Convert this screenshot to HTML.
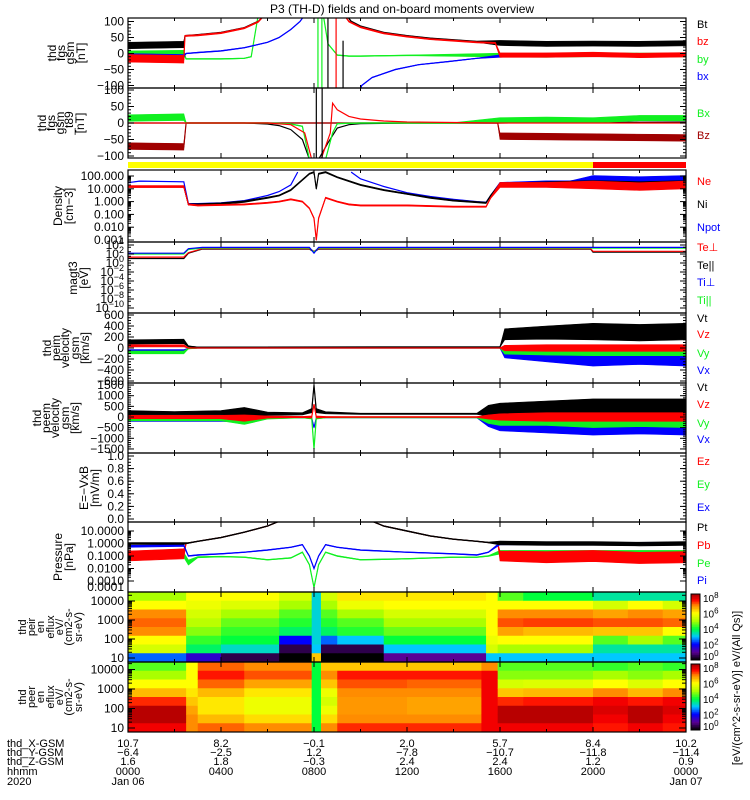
<!DOCTYPE html>
<html><head><meta charset="utf-8"><style>
html,body{margin:0;padding:0;background:#fff;}
svg{display:block;font-family:"Liberation Sans",sans-serif;}
</style></head><body>
<svg id="chart" width="750" height="800" viewBox="0 0 750 800">
<rect x="0" y="0" width="750" height="800" fill="#fff"/>
<text x="402" y="13" font-size="12" text-anchor="middle">P3 (TH-D) fields and on-board moments overview</text>
<g id="root"></g>
</svg>
<script>
// ---------- data arrays ----------
const tickHours = [0,4,8,12,16,20,24];
const xGsm = ["10.7","8.2","-0.1","2.0","5.7","8.4","10.2"];
const yGsm = ["-6.4","-2.5","1.2","-7.8","-10.7","-11.8","-11.4"];
const zGsm = ["1.6","1.8","-0.3","2.4","2.4","1.2","0.9"];
const hhmm = ["0000","0400","0800","1200","1600","2000","0000"];

// panel 1 fgs gsm
const p1BtT=[0,2.4,2.45,3,4,5,5.6,6,null,9.3,9.6,10,11,12,13,14,15,16,18,20,22,24];
const p1BtV=[25,28,55,58,65,80,100,130,null,130,100,85,65,55,47,42,37,33,30,31,30,32];
const p1BtS=[10,10,2,2,2,2,2,2,null,2,2,2,2,2,2,2,2,8,8,8,8,8];
const p1BzT=[0,2.4,2.45,3,4,5,5.6,6,null,9.2,9.5,10,11,12,13,14,15,15.8,16,18,20,22,24];
const p1BzV=[-15,-18,55,57,64,79,99,130,null,130,100,82,63,53,45,40,35,33,-5,-5,-3,-6,-4];
const p1BzS=[12,12,2,2,2,2,2,2,null,2,2,2,2,2,2,2,2,2,7,7,7,7,7];
const p1ByT=[0,2.4,2.5,3,4,4.5,5,5.3,5.6,null,8.4,8.6,9,9.5,10,12,16,18,20,24];
const p1ByV=[0,2,-17,-17,-17,-16,-15,-10,120,null,120,30,-5,-8,-8,-6,-5,-6,-4,-5];
const p1ByS=[8,8,1,1,1,1,1,1,1,null,1,1,1,1,1,1,6,6,6,6];
const p1BxT=[0,2.4,2.5,3,4,5,6,6.5,7,7.4,7.7,null,9.9,10.05,10.5,11.5,12.5,13.8,15,16,18,20,24];
const p1BxV=[-5,-8,0,3,8,18,35,50,75,100,130,null,-130,-100,-75,-50,-35,-25,-15,-8,-3,-5,-5];
const p1BxS=[5,5,1,1,1,1,1,1,1,1,1,null,1,1,1,1,1,1,1,4,4,4,4];
const p1SpikeT=[8.17,8.34,8.95,8.6,9.25];
const p1SpikeLo=[-110,-110,-110,-110,-110];
const p1SpikeHi=[110,110,110,110,40];
const p1SpikeC=["g","g","r","k","k"];

// panel 2 fgs gsm t89
const p2BxT=[0,2.4,2.5,4,6,7,7.5,7.8,8.5,8.8,9,10,12,14,16,18,20,22,24];
const p2BxV=[15,18,0,0,0,-3,-10,-110,-110,-30,-2,0,0,0,8,10,8,15,15];
const p2BxS=[10,10,1,1,1,1,1,1,1,1,1,1,1,1,8,8,8,8,8];
const p2BzT=[0,2.4,2.5,15.9,16,24];
const p2BzV=[-70,-72,0,0,-40,-45];
const p2BzS=[10,10,1,1,10,10];
const p2KT=[0,2.5,5,6,6.5,7,7.5,7.8,8.2,8.6,9,9.5,10,12,16,24];
const p2KV=[0,0,0,-3,-8,-20,-50,-110,-110,-60,-15,-5,-2,0,0,3];
const p2RT=[0,2.5,6,7,7.6,7.9,8.3,8.7,8.8,9,9.5,10,11,12,16,24];
const p2RV=[0,0,0,-5,-30,-110,-110,-30,60,40,20,12,6,3,0,0];
const p2SpikeT=[8.1,8.35];
const p2SpikeLo=[-110,-110];
const p2SpikeHi=[110,110];

// mode bar
const modeStart=[0,20];
const modeEnd=[20,24];
const modeColor=["#ffff00","#ff0000"];

// panel 3 density (cm-3)
const p3NeT=[0,2.4,2.6,3,4,5,6,6.5,7,7.5,7.8,8,8.1,8.2,8.5,9,9.5,10,12,14,15.4,15.6,16,18,20,22,24];
const p3NeV=[15,15,0.6,0.5,0.55,0.6,0.8,1,1.5,1,0.3,0.05,0.001,0.05,2,1,0.6,0.5,0.5,0.4,0.4,2,20,20,20,15,20];
const p3NeS=[0.08,0.08,0.05,0.05,0.05,0.05,0.05,0.05,0.05,0.05,0.05,0.05,0.05,0.05,0.05,0.05,0.05,0.05,0.05,0.05,0.05,0.05,0.2,0.2,0.3,0.3,0.3];
const p3NiT=[0,2.4,2.6,3,4,5,6,6.5,7,7.5,7.8,8,8.1,8.2,8.5,9,10,11,12,13,14,15,15.4,15.6,16,18,20,22,24];
const p3NiV=[15,15,0.6,0.6,0.7,1,2,3,8,50,150,200,10,150,200,80,20,8,4,2,1.2,0.9,0.8,3,20,25,25,20,25];
const p3NiS=[0.06,0.06,0.06,0.06,0.06,0.06,0.05,0.05,0.05,0.05,0.05,0.05,0.05,0.05,0.05,0.05,0.05,0.05,0.05,0.05,0.05,0.05,0.05,0.05,0.15,0.15,0.25,0.25,0.25];
const p3NpT=[0,0.5,2.4,2.6,3,4,5,6,6.5,7,7.3,null,9.6,10,11,12,13,14,15,15.4,15.6,16,18,19,20,22,24];
const p3NpV=[30,40,35,0.7,0.7,0.8,1.2,3,6,20,200,null,200,60,15,5,2.5,1.5,1,0.9,3,30,40,40,60,50,60];
const p3NpS=[0,0,0,0,0,0,0,0,0,0,0,null,0,0,0,0,0,0,0,0,0,0,0,0,0.25,0.25,0.25];

// panel 4 magt3 temperatures (eV)
const p4T=[0,2.4,2.6,3.2,6,7.8,8,8.2,10,16,19.9,20,24];
const p4TePerp=[20,20,200,1500,1500,1500,400,1500,1500,1500,1500,400,400];
const p4TePar=[10,10,150,1200,1200,1200,300,1200,1200,1200,1200,250,250];
const p4TiPerp=[150,150,1500,3000,3000,3000,150,3000,3000,3000,3000,3000,3000];
const p4TiPar=[100,100,1000,2200,2200,2200,300,2200,2200,2200,2200,2000,2000];

// panel 5 peim velocity
const p5T=[0,2.4,2.6,3,16,16.2,18,20,22,24];
const p5VtV=[110,120,30,15,20,250,280,300,280,300];
const p5VtS=[40,40,10,5,5,100,120,150,150,150];
const p5VzV=[40,40,0,0,0,0,0,0,0,0];
const p5VzS=[20,20,5,3,3,50,60,60,60,60];
const p5VyV=[-80,-80,-10,0,0,-70,-80,-80,-80,-80];
const p5VyS=[25,25,5,3,3,40,50,60,60,60];
const p5VxV=[-50,-50,-5,0,0,-120,-150,-180,-150,-180];
const p5VxS=[20,20,5,3,3,60,100,150,150,150];

// panel 6 peem velocity
const p6T=[0,2,4,5,6,7.5,7.9,8,8.1,8.5,10,14,15,15.5,16,18,20,22,24];
const p6VtV=[200,180,200,250,150,150,300,1500,300,200,150,150,150,300,350,400,450,450,450];
const p6VtS=[100,80,100,200,80,50,100,0,100,50,30,30,30,250,300,350,400,400,400];
const p6VzV=[0,0,0,-50,0,0,0,600,0,0,0,0,0,0,0,0,0,0,0];
const p6VzS=[80,80,80,150,50,30,50,0,50,30,20,20,20,100,150,200,200,200,200];
const p6VyV=[-100,-100,-100,-200,-50,-20,-50,-1500,-50,-20,-20,-20,-20,-150,-200,-200,-250,-200,-250];
const p6VyS=[80,80,80,150,50,20,50,0,50,20,20,20,20,150,200,200,250,250,250];
const p6VxV=[-150,-150,-150,-150,-50,-20,-50,-500,-50,-20,-20,-20,-20,-250,-350,-400,-450,-400,-450];
const p6VxS=[60,60,60,80,30,20,30,0,30,20,20,20,20,200,300,350,400,400,400];

// panel 8 pressure (nPa)
const p8PtT=[0,2.4,2.6,3,4,5,6,6.5,null,10.5,11,12,13,14,15,15.5,16,18,20,22,24];
const p8PtV=[1,1,1.1,1.5,3,8,25,60,null,60,25,10,4,2.2,1.5,1.2,1.1,1,1,0.9,1];
const p8PtS=[0.08,0.08,0.03,0.03,0.03,0.03,0.03,0.03,null,0.03,0.03,0.03,0.03,0.03,0.03,0.03,0.15,0.15,0.15,0.15,0.15];
const p8PbT=[0,2.4,2.5,2.6,3,4,5,6,6.5,null,10.5,11,12,13,14,15,15.5,15.9,16,18,20,22,24];
const p8PbV=[0.1,0.15,1,1.1,1.5,3,8,25,60,null,60,25,10,4,2.2,1.5,1.2,1.1,0.1,0.08,0.1,0.07,0.08];
const p8PbS=[0.4,0.4,0.02,0.02,0.02,0.02,0.02,0.02,0.02,null,0.02,0.02,0.02,0.02,0.02,0.02,0.02,0.02,0.4,0.45,0.45,0.45,0.45];
const p8PT=[0,2.4,2.6,3,4,5,6,7,7.5,7.8,8,8.2,8.5,9,10,12,14,15,15.5,16,24];
const p8PeV=[0.1,0.12,0.03,0.08,0.09,0.08,0.05,0.07,0.2,0.02,0.0003,0.02,0.2,0.1,0.05,0.06,0.08,0.08,0.1,0.2,0.2];
const p8PeS=[0.2,0.2,0.2,0.05,0.03,0.03,0.03,0.03,0.03,0.03,0.03,0.03,0.03,0.03,0.03,0.03,0.03,0.03,0.03,0.15,0.15];
const p8PiV=[0.6,0.7,0.1,0.12,0.15,0.2,0.3,0.5,0.8,0.1,0.01,0.1,0.8,0.5,0.3,0.2,0.15,0.12,0.2,1,1];
const p8PiS=[0.08,0.08,0.03,0.03,0.03,0.03,0.03,0.03,0.03,0.03,0.03,0.03,0.03,0.03,0.03,0.03,0.03,0.03,0.03,0.1,0.1];

// spectrograms: segment start/end hours and column profiles (log10 eflux, rows top(high E) -> bottom)
const ionSegStart=[0,2.5,4,6.5,7.9,8.3,9,11,15.4,15.9,17,20,21.5,23];
const ionSegEnd=[2.5,4,6.5,7.9,8.3,9,11,15.4,15.9,17,20,21.5,23,24];
const ionCols=[
 [5,6,7,7.2,7,6,5.5,2.5],
 [6,5.8,5.5,5.2,4.8,4.3,3.8,1.5],
 [6,5.6,5,4.6,4.3,4,3.3,0.5],
 [5.5,5,4.5,4.2,3.8,2,0.5,0],
 [3.2,3.2,3.2,3.2,3.2,3.2,3,6.5],
 [5.5,5,4.5,4.2,3.8,2.5,0.5,0],
 [6.2,5.8,5,4.5,4.2,3,0.5,0],
 [6.2,6,5.5,5,4.6,4,3,1],
 [6,6,6,6,6,5.8,5.5,3],
 [4.5,6,7,7.3,6.8,6,5,3],
 [4,6,7,7.4,6.6,6,5,3],
 [3.5,5.5,6.8,7.3,6.5,4.5,3.5,3],
 [3.5,6,7,7.3,6.5,5,3.5,3],
 [3.5,5.5,6.8,7.2,6,4.5,3.5,3]];
const eleSegStart=[0,2.5,3,5,7.9,8.3,9,12,15.2,15.9,17,20,21.5,23];
const eleSegEnd=[2.5,3,5,7.9,8.3,9,12,15.2,15.9,17,20,21.5,23,24];
const eleCols=[
 [4.5,5,6,6.6,7.5,8.3,8.3,7.8],
 [6,6,6,6.2,6.5,6.8,7,7],
 [7.2,7.6,7.2,6.6,6.2,6.2,6.6,7.2],
 [7,7.3,6.8,6.2,5.8,5.8,6.3,7],
 [4,4,4,4,4,4,4,4],
 [6.5,7,6.5,5.8,5.5,5.8,6.3,7],
 [6.5,7.6,7.3,7,6.9,6.9,7,7.5],
 [6.5,7.6,7.2,7,6.8,6.8,7,7.5],
 [7,7.8,7.8,7.8,7.8,7.8,7.8,7.8],
 [4.5,4.8,5.5,6.5,7.5,8.3,8.3,7.8],
 [4.5,4.8,5.6,6.6,7.6,8.3,8.3,7.8],
 [4.3,5,6,7,7.8,8,7.8,7.6],
 [4.5,4.8,5.6,6.6,7.6,8.3,8.3,7.8],
 [4.3,5,6,7,7.8,8,7.8,7.6]];
const cbTicks=[0,2,4,6,8];

// ---------- rendering ----------
const NS="http://www.w3.org/2000/svg";
const root=document.getElementById('root');
const X0=128, X1=686;
const GREEN="#10f020", RED="#ff0000", BLUE="#0000ff", BLACK="#000000", DRED="#a00000";
const colorOf={k:BLACK,r:RED,g:GREEN,b:BLUE};
function xt(t){return X0+(X1-X0)*t/24;}
function mk(tag,attrs,parent){const e=document.createElementNS(NS,tag);for(const k in attrs)e.setAttribute(k,attrs[k]);(parent||root).appendChild(e);return e;}

const panels=[
 {id:'fgs',top:18,bot:88,y:v=>53.5-v*0.32},
 {id:'t89',top:88,bot:158,y:v=>123-v*0.33},
 {id:'dens',top:170,bot:242,y:v=>176-(Math.log10(v)-2)*12.8},
 {id:'temp',top:242,bot:313,y:v=>245-(Math.log10(v)-4)*4.5},
 {id:'peim',top:313,bot:383,y:v=>348-v*0.055},
 {id:'peem',top:383,bot:453,y:v=>417-v*0.0213},
 {id:'efield',top:453,bot:522,y:v=>519-v*63},
 {id:'press',top:522,bot:592,y:v=>531-(Math.log10(v)-1)*12.5},
 {id:'ionspec',top:592,bot:662},
 {id:'elespec',top:662,bot:732}
];
const clipG={};
const defs=mk('defs',{});
panels.forEach(p=>{
 const c=mk('clipPath',{id:'clip-'+p.id},defs);
 mk('rect',{x:X0,y:p.top,width:X1-X0,height:p.bot-p.top},c);
 const g=mk('g',{'clip-path':'url(#clip-'+p.id+')'});
 
 
 clipG[p.id]=g;
});

function series(pid,T,V,S,color,isLog,name){
 const p=panels.find(q=>q.id===pid);const g=clipG[pid];
 const segs=[];let cur=[];
 for(let i=0;i<T.length;i++){if(T[i]===null){if(cur.length)segs.push(cur);cur=[];}else cur.push(i);}
 if(cur.length)segs.push(cur);
 segs.forEach(idx=>{
  if(S){
   const up=[],lo=[];
   idx.forEach(i=>{const s=S[i]||0;let a,b;
    if(isLog){a=V[i]*Math.pow(10,s);b=V[i]/Math.pow(10,s);}else{a=V[i]+s;b=V[i]-s;}
    up.push(xt(T[i]).toFixed(1)+','+p.y(a).toFixed(1));lo.unshift(xt(T[i]).toFixed(1)+','+p.y(b).toFixed(1));});
   const band=mk('polygon',{points:up.concat(lo).join(' '),fill:color,stroke:color,'stroke-width':0.6},g);
   
   
  }
  const pts=idx.map(i=>xt(T[i]).toFixed(1)+','+p.y(V[i]).toFixed(1)).join(' ');
  const ln=mk('polyline',{points:pts,fill:'none',stroke:color,'stroke-width':1.2},g);
  
  
 });
}
function spikes(pid,T,L,H,C,name){
 const p=panels.find(q=>q.id===pid);
 T.forEach((t,i)=>{const l=mk('line',{x1:xt(t),x2:xt(t),y1:p.y(L[i]),y2:p.y(H[i]),stroke:C?colorOf[C[i]]:BLACK,'stroke-width':1.2},clipG[pid]);
  
  });
}

series('fgs',p1ByT,p1ByV,p1ByS,GREEN,false,'by');
series('fgs',p1BxT,p1BxV,p1BxS,BLUE,false,'bx');
series('fgs',p1BtT,p1BtV,p1BtS,BLACK,false,'bt');
series('fgs',p1BzT,p1BzV,p1BzS,RED,false,'bz');
spikes('fgs',p1SpikeT,p1SpikeLo,p1SpikeHi,p1SpikeC,'b-spike');
series('t89',p2BzT,p2BzV,p2BzS,DRED,false,'bz-t89');
series('t89',p2KT,p2KV,null,BLACK,false,'b-t89-black');
series('t89',p2BxT,p2BxV,p2BxS,GREEN,false,'bx-t89');
series('t89',p2RT,p2RV,null,RED,false,'b-t89-red');
spikes('t89',p2SpikeT,p2SpikeLo,p2SpikeHi,null,'t89-spike');
modeStart.forEach((s,i)=>{const r=mk('rect',{x:xt(s),y:162,width:xt(modeEnd[i])-xt(s),height:6,fill:modeColor[i]});
 
 });
series('dens',p3NpT,p3NpV,p3NpS,BLUE,true,'npot');
series('dens',p3NiT,p3NiV,p3NiS,BLACK,true,'ni');
series('dens',p3NeT,p3NeV,p3NeS,RED,true,'ne');
series('temp',p4T,p4TePar,null,BLACK,true,'te-par');
series('temp',p4T,p4TePerp,null,RED,true,'te-perp');
series('temp',p4T,p4TiPar,null,GREEN,true,'ti-par');
series('temp',p4T,p4TiPerp,null,BLUE,true,'ti-perp');
series('peim',p5T,p5VxV,p5VxS,BLUE,false,'peim-vx');
series('peim',p5T,p5VyV,p5VyS,GREEN,false,'peim-vy');
series('peim',p5T,p5VtV,p5VtS,BLACK,false,'peim-vt');
series('peim',p5T,p5VzV,p5VzS,RED,false,'peim-vz');
series('peem',p6T,p6VxV,p6VxS,BLUE,false,'peem-vx');
series('peem',p6T,p6VyV,p6VyS,GREEN,false,'peem-vy');
series('peem',p6T,p6VtV,p6VtS,BLACK,false,'peem-vt');
series('peem',p6T,p6VzV,p6VzS,RED,false,'peem-vz');
series('press',p8PT,p8PeV,p8PeS,GREEN,true,'pe');
series('press',p8PbT,p8PbV,p8PbS,RED,true,'pb');
series('press',p8PT,p8PiV,p8PiS,BLUE,true,'pi');
series('press',p8PtT,p8PtV,p8PtS,BLACK,true,'pt');

const cmStops=[[0,[0,0,0]],[1,[90,0,150]],[2,[0,0,255]],[3,[0,200,255]],[4,[0,255,60]],[5,[170,255,0]],[6,[255,255,0]],[7,[255,140,0]],[7.7,[255,0,0]],[8.5,[160,0,0]]];
function cmap(v){if(v<=0)return 'rgb(0,0,0)';for(let i=1;i<cmStops.length;i++){if(v<=cmStops[i][0]){const a=cmStops[i-1],b=cmStops[i];const f=(v-a[0])/(b[0]-a[0]);const c=a[1].map((x,k)=>Math.round(x+(b[1][k]-x)*f));return 'rgb('+c+')';}}return 'rgb(160,0,0)';}
function spec(pid,SS,SE,C,name){
 const p=panels.find(q=>q.id===pid);const nr=C[0].length;const h=(p.bot-p.top)/nr;
 SS.forEach((s,j)=>{for(let r=0;r<nr;r++){const c=mk('rect',{x:xt(s),y:p.top+r*h,width:xt(SE[j])-xt(s)+0.5,height:h+0.5,fill:cmap(C[j][r])},clipG[pid]);
  
  }});
}
spec('ionspec',ionSegStart,ionSegEnd,ionCols,'ion-spectrogram');
spec('elespec',eleSegStart,eleSegEnd,eleCols,'electron-spectrogram');

panels.forEach(p=>{
 const f=mk('rect',{x:X0,y:p.top,width:X1-X0,height:p.bot-p.top,fill:'none',stroke:'#000','stroke-width':1.2});
 
 
 for(let h=0;h<=24;h+=2){const L=h%4===0?5:3;
  mk('line',{x1:xt(h),x2:xt(h),y1:p.top,y2:p.top+L,stroke:'#000'});
  mk('line',{x1:xt(h),x2:xt(h),y1:p.bot,y2:p.bot-L,stroke:'#000'});}
});

function ylab(txt,y,sup,name){const t=mk('text',{x:124,y:y+4,'font-size':12,'text-anchor':'end'});
 if(sup!==undefined){t.textContent='10';const s=mk('tspan',{dy:-5,'font-size':9},t);s.textContent=sup;}else t.textContent=txt;
 
 }
function yt(y,len){mk('line',{x1:X0,x2:X0+len,y1:y,y2:y,stroke:'#000'});mk('line',{x1:X1,x2:X1-len,y1:y,y2:y,stroke:'#000'});}
[[100,'100'],[50,'50'],[0,'0'],[-50,'−50'],[-100,'−100']].forEach(a=>{ylab(a[1],panels[0].y(a[0]),undefined,'fgs-y-tick');yt(panels[0].y(a[0]),6);});
for(let v=-100;v<=100;v+=10)yt(panels[0].y(v),3);
[[100,'100'],[50,'50'],[0,'0'],[-50,'−50'],[-100,'−100']].forEach(a=>{ylab(a[1],panels[1].y(a[0]),undefined,'t89-y-tick');yt(panels[1].y(a[0]),6);});
for(let v=-100;v<=100;v+=10)yt(panels[1].y(v),3);
[[100,'100.000'],[10,'10.000'],[1,'1.000'],[0.1,'0.100'],[0.01,'0.010'],[0.001,'0.001']].forEach(a=>{ylab(a[1],panels[2].y(a[0]),undefined,'density-y-tick');yt(panels[2].y(a[0]),6);});
for(let d=-3;d<2;d++)for(let m=2;m<10;m++)yt(panels[2].y(m*Math.pow(10,d)),3);
[4,2,0,-2,-4,-6,-8,-10].forEach(e=>{ylab('',panels[3].y(Math.pow(10,e)),String(e).replace('-','−'),'temp-y-tick');yt(panels[3].y(Math.pow(10,e)),6);});
for(let e=-10;e<4;e++)yt(panels[3].y(Math.pow(10,e+0.5)),3);
[[600,'600'],[400,'400'],[200,'200'],[0,'0'],[-200,'−200'],[-400,'−400'],[-600,'−600']].forEach(a=>{ylab(a[1],panels[4].y(a[0]),undefined,'peim-y-tick');yt(panels[4].y(a[0]),6);});
for(let v=-600;v<=600;v+=50)yt(panels[4].y(v),3);
[[1500,'1500'],[1000,'1000'],[500,'500'],[0,'0'],[-500,'−500'],[-1000,'−1000'],[-1500,'−1500']].forEach(a=>{ylab(a[1],panels[5].y(a[0]),undefined,'peem-y-tick');yt(panels[5].y(a[0]),6);});
for(let v=-1500;v<=1500;v+=100)yt(panels[5].y(v),3);
[[1,'1.0'],[0.8,'0.8'],[0.6,'0.6'],[0.4,'0.4'],[0.2,'0.2'],[0,'0.0']].forEach(a=>{ylab(a[1],panels[6].y(a[0]),undefined,'efield-y-tick');yt(panels[6].y(a[0]),6);});
for(let v=0;v<=1;v+=0.05)yt(panels[6].y(v),3);
[[10,'10.0000'],[1,'1.0000'],[0.1,'0.1000'],[0.01,'0.0100'],[0.001,'0.0010']].forEach(a=>{ylab(a[1],panels[7].y(a[0]),undefined,'pressure-y-tick');yt(panels[7].y(a[0]),6);});
ylab('0.0001',587,undefined,'pressure-y-tick');
for(let d=-3;d<1;d++)for(let m=2;m<10;m++)yt(panels[7].y(m*Math.pow(10,d)),3);
[[10000,'10000'],[1000,'1000'],[100,'100'],[10,'10']].forEach(a=>{
 const L=Math.log10(a[0]);ylab(a[1],658-(L-1)*19,undefined,'ion-energy-tick');ylab(a[1],728-(L-1)*19.5,undefined,'electron-energy-tick');});
for(let d=1;d<5;d++)for(let m=1;m<10;m++){const L=d+Math.log10(m);const len=m===1?7:4;
 if(658-(L-1)*19>592){yt(658-(L-1)*19,len);}if(728-(L-1)*19.5>662)yt(728-(L-1)*19.5,len);}

function ytitle(lines,xs,yc,fs,name){lines.forEach((s,i)=>{const t=mk('text',{x:xs[i],y:yc,'font-size':fs,'text-anchor':'middle',transform:'rotate(-90 '+xs[i]+' '+yc+')'});
 t.textContent=s;
 
 });}
ytitle(['thd','fgs','gsm','[nT]'],[56,65,74,85],53,12,'fgs-y-title');
ytitle(['thd','fgs','gsm','_t89','[nT]'],[46,55,64,73,84],123,12,'t89-y-title');
ytitle(['Density','[cm−3]'],[62,73],206,12,'density-y-title');
ytitle(['magt3','[eV]'],[77,88],278,12,'temp-y-title');
ytitle(['thd','peim','velocity','gsm','[km/s]'],[51,60,69,79,89],348,12,'peim-y-title');
ytitle(['thd','peem','velocity','gsm','[km/s]'],[41,50,59,69,79],418,12,'peem-y-title');
ytitle(['E=−VxB','[mV/m]'],[88,99],488,12,'efield-y-title');
ytitle(['Pressure','[nPa]'],[62,73],557,12,'pressure-y-title');
ytitle(['thd','peir','en','eflux','eV/','(cm2-s-','sr-eV)'],[26,35,44,54,63,72,82],627,11,'ion-spec-y-title');
ytitle(['thd','peer','en','eflux','eV/','(cm2-s-','sr-eV)'],[26,35,44,54,63,72,82],697,11,'ele-spec-y-title');

const legends=[
 ['Bt',BLACK,24],['bz',RED,41],['by',GREEN,59],['bx',BLUE,76],
 ['Bx',GREEN,113],['Bz',DRED,135],
 ['Ne',RED,181],['Ni',BLACK,204],['Npot',BLUE,227],
 ['Te⊥',RED,247],['Te||',BLACK,265],['Ti⊥',BLUE,282],['Ti||',GREEN,300],
 ['Vt',BLACK,318],['Vz',RED,334],['Vy',GREEN,353],['Vx',BLUE,370],
 ['Vt',BLACK,387],['Vz',RED,404],['Vy',GREEN,423],['Vx',BLUE,439],
 ['Ez',RED,461],['Ey',GREEN,484],['Ex',BLUE,507],
 ['Pt',BLACK,527],['Pb',RED,545],['Pe',GREEN,563],['Pi',BLUE,580]];
legends.forEach(l=>{const t=mk('text',{x:697,y:l[2]+4,'font-size':11,fill:l[1]});t.textContent=l[0];
 
 });

function cbar(top,bot,name){const n=40;const h=(bot-top)/n;
 for(let i=0;i<n;i++){const v=8.5*(1-(i+0.5)/n);const r=mk('rect',{x:691,y:top+i*h,width:9,height:h+0.5,fill:cmap(v)});
  
  }
 const f=mk('rect',{x:691,y:top,width:9,height:bot-top,fill:'none',stroke:'#000'});
 
 
 cbTicks.forEach(e=>{const y=top+(bot-top)*(1-e/8.5);const t=mk('text',{x:703,y:Math.min(y+4,bot),'font-size':10});
  t.textContent='10';const s=mk('tspan',{dy:-4,'font-size':8},t);s.textContent=String(e);
  
  });}
cbar(594,660,'ion-colorbar');cbar(664,730,'electron-colorbar');
const cbl=mk('text',{x:740,y:688,'font-size':11,'text-anchor':'middle',transform:'rotate(-90 740 688)'});
cbl.textContent='[eV/(cm^2-s-sr-eV)] eV/(All Qs)]';



const rowNames=['thd_X-GSM','thd_Y-GSM','thd_Z-GSM','hhmm','2020'];
const rowY=[747,756,765,775,785];
rowNames.forEach((s,i)=>{const t=mk('text',{x:7,y:rowY[i],'font-size':11});t.textContent=s;
 
 });
const rowsVals=[xGsm,yGsm,zGsm,hhmm];
tickHours.forEach((h,j)=>{rowsVals.forEach((arr,i)=>{const t=mk('text',{x:xt(h),y:rowY[i],'font-size':11,'text-anchor':'middle'});
 t.textContent=arr[j].replace('-','−');
 
 });});
[['Jan 06',0],['Jan 07',24]].forEach(a=>{const t=mk('text',{x:xt(a[1]),y:785,'font-size':11,'text-anchor':'middle'});t.textContent=a[0];
 
 });
</script>
</body></html>
